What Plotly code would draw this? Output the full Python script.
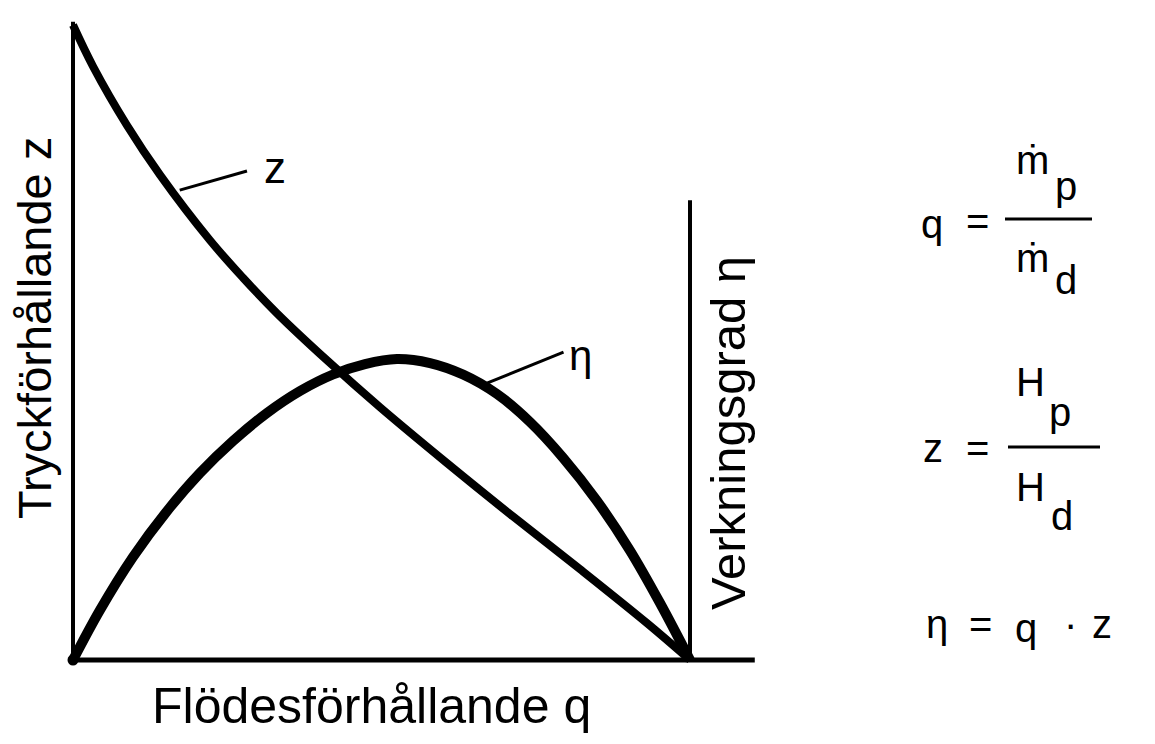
import plotly.graph_objects as go

# Flow ratio q (normalized 0..1) and pressure ratio z
q_z = [0.0, 0.0324, 0.0875, 0.1410, 0.2220, 0.2755, 0.3306, 0.4117, 0.4976,
       0.6062, 0.7131, 0.8217, 0.9303, 1.0]
z_vals = [1.0, 0.935, 0.842, 0.764, 0.661, 0.602, 0.546, 0.472, 0.398,
          0.310, 0.226, 0.143, 0.058, 0.0]

# Efficiency eta
q_eta = [0.0, 0.0438, 0.0972, 0.1524, 0.2058, 0.2593, 0.3144, 0.3679, 0.4214,
         0.4733, 0.5251, 0.5786, 0.6321, 0.6872, 0.7407, 0.7942, 0.8493, 0.9028,
         0.9514, 1.0]
eta_vals = [0.0, 0.0787, 0.1622, 0.2346, 0.2945, 0.3449, 0.3890, 0.4236, 0.4496,
            0.4661, 0.4740, 0.4677, 0.4496, 0.4189, 0.3748, 0.3186, 0.2504, 0.1724,
            0.0898, 0.0]

x_title = "Flödesförhållande q"
y_title = "Tryckförhållande z"
y2_title = "Verkningsgrad η"

# page has an 8px body margin, so the figure is sized to fit the window
OFF = 8
W, H = 1155 - OFF, 744 - OFF
FONT = "Liberation Sans, Arial, Helvetica, sans-serif"

# axis ranges chosen so the plot origin lands at the drawn corner
x_range = [-0.10535, 1.75365]
y_range = [-0.13228, 1.02677]

fig = go.Figure()
fig.add_trace(go.Scatter(x=q_z, y=z_vals, mode="lines",
                         line=dict(color="black", width=8, shape="spline", smoothing=1.0),
                         hoverinfo="skip", showlegend=False))
fig.add_trace(go.Scatter(x=q_eta, y=eta_vals, mode="lines",
                         line=dict(color="black", width=10, shape="spline", smoothing=1.0),
                         hoverinfo="skip", showlegend=False))
fig.add_trace(go.Scatter(x=[0], y=[0], mode="markers",
                         marker=dict(color="black", size=11),
                         hoverinfo="skip", showlegend=False))

shapes = [
    # left axis
    dict(type="line", xref="x", yref="y", x0=0, x1=0, y0=0, y1=1.005,
         line=dict(color="black", width=4)),
    # bottom axis
    dict(type="line", xref="x", yref="y", x0=0, x1=1.105, y0=0, y1=0,
         line=dict(color="black", width=5)),
    # right axis
    dict(type="line", xref="x", yref="y", x0=1.0, x1=1.0, y0=0, y1=0.724,
         line=dict(color="black", width=4)),
    # leader lines
    dict(type="line", xref="x", yref="y", x0=0.173, x1=0.282, y0=0.740, y1=0.770,
         line=dict(color="black", width=3)),
    dict(type="line", xref="x", yref="y", x0=0.671, x1=0.795, y0=0.436, y1=0.485,
         line=dict(color="black", width=3)),
]


def px(x):
    return (x - OFF) / W


def py(y):
    return 1 - (y - OFF) / H


# fraction bars
shapes.append(dict(type="line", xref="paper", yref="paper", x0=px(1005), x1=px(1092),
                   y0=py(219), y1=py(219), line=dict(color="black", width=3)))
shapes.append(dict(type="line", xref="paper", yref="paper", x0=px(1008), x1=px(1100),
                   y0=py(447), y1=py(447), line=dict(color="black", width=3)))

annotations = []


def txt(x, y, s, size=40, xref="paper", yref="paper", angle=0):
    if xref == "paper":
        x = px(x)
    if yref == "paper":
        y = py(y)
    annotations.append(dict(x=x, y=y, xref=xref, yref=yref, text=s, showarrow=False,
                            font=dict(family=FONT, size=size, color="black"),
                            xanchor="center", yanchor="middle", textangle=angle))


# axis titles
txt(371, 706, x_title, size=50)
txt(35, 328, y_title, size=47, angle=-90)
txt(728, 433, y2_title, size=49, angle=-90)

# curve labels
txt(0.327, 0.775, "z", size=44, xref="x", yref="y")
txt(0.822, 0.48, "η", size=42, xref="x", yref="y")

# formula q = m_p / m_d
txt(932, 224, "q")
txt(977, 221, "=")
txt(1032, 160, "ṁ")
txt(1066, 186, "p")
txt(1032, 258, "ṁ")
txt(1066, 280, "d")

# formula z = H_p / H_d
txt(933, 448, "z")
txt(977, 448, "=")
txt(1030, 382, "H")
txt(1060, 412, "p")
txt(1030, 487, "H")
txt(1062, 516, "d")

# formula eta = q * z
txt(937, 624, "η")
txt(980, 624, "=")
txt(1026, 628, "q")
txt(1070, 624, "·")
txt(1102, 624, "z")

fig.update_layout(
    width=W, height=H,
    margin=dict(l=0, r=0, t=0, b=0),
    paper_bgcolor="white", plot_bgcolor="white",
    xaxis=dict(visible=False, range=x_range, fixedrange=True),
    yaxis=dict(visible=False, range=y_range, fixedrange=True),
    shapes=shapes, annotations=annotations,
    showlegend=False,
)

fig.write_html("out.html")
